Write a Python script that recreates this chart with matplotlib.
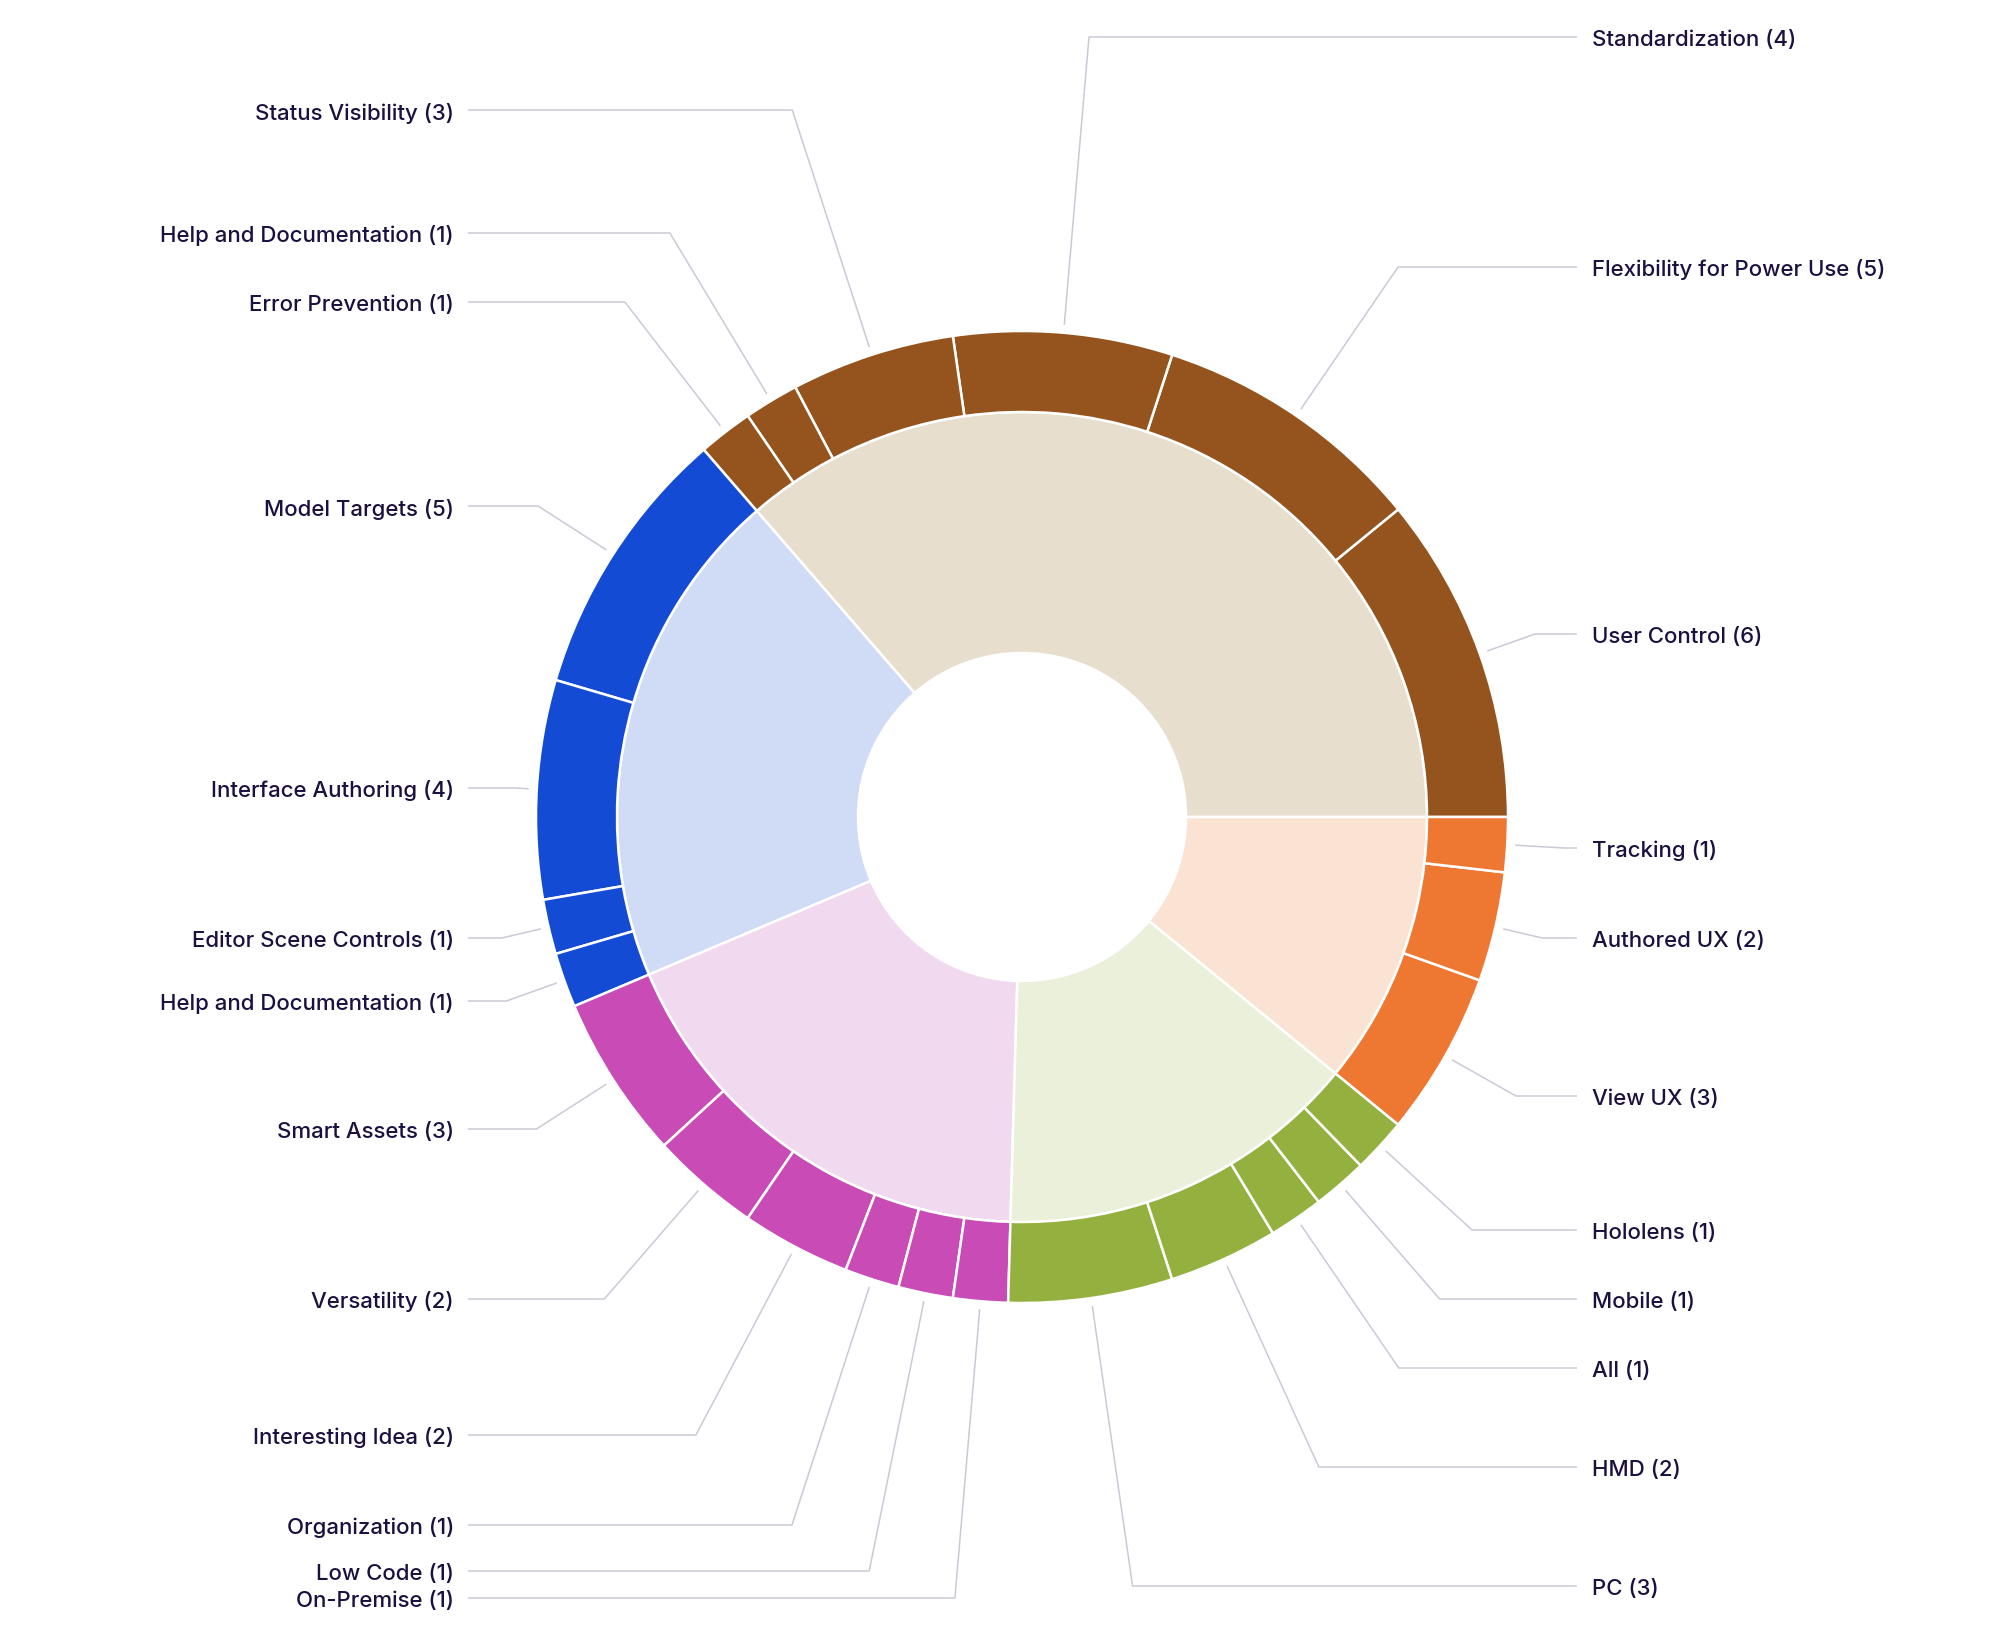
import numpy as np
import matplotlib.pyplot as plt

plt.rcParams['font.family'] = ['Inter', 'DejaVu Sans']

# inner ring groups (counterclockwise from 3 o'clock)
group_outer_colors = ['#95531d', '#144bd4', '#c84bb6', '#94b13f', '#ee7732']
group_inner_colors = ['#e8dece', '#d0dcf5', '#f1d9ef', '#eaf0d9', '#fae3d2']

# outer ring
outer_labels = ['User Control', 'Flexibility for Power Use', 'Standardization', 'Status Visibility',
                'Help and Documentation', 'Error Prevention',
                'Model Targets', 'Interface Authoring', 'Editor Scene Controls', 'Help and Documentation',
                'Smart Assets', 'Versatility', 'Interesting Idea', 'Organization', 'Low Code', 'On-Premise',
                'PC', 'HMD', 'All', 'Mobile', 'Hololens',
                'View UX', 'Authored UX', 'Tracking']
outer_values = [6, 5, 4, 3, 1, 1,
                5, 4, 1, 1,
                3, 2, 2, 1, 1, 1,
                3, 2, 1, 1, 1,
                3, 2, 1]
outer_group = [0] * 6 + [1] * 4 + [2] * 6 + [3] * 5 + [4] * 3

# label row positions (pixels from top)
label_rows = [635, 268, 38, 111, 234, 303,
              507, 789, 939, 1002,
              1130, 1300, 1436, 1526, 1572, 1599,
              1587, 1468, 1369, 1300, 1231,
              1097, 939, 849]

W, H = 2004, 1640
cx, cy = 1022, H - 818
r_out, r_mid, r_hole = 486, 405, 164

inner_values = [sum(v for v, g in zip(outer_values, outer_group) if g == k) for k in range(5)]

fig = plt.figure(figsize=(W / 100, H / 100), dpi=100)
ax = fig.add_axes([0, 0, 1, 1])

wedge_style = dict(edgecolor='white', linewidth=1.8)
ax.pie(inner_values, radius=r_mid, center=(cx, cy), startangle=0, counterclock=True,
       colors=group_inner_colors, wedgeprops=dict(width=r_mid - r_hole, **wedge_style))
outer_colors = [group_outer_colors[g] for g in outer_group]
wedges, _ = ax.pie(outer_values, radius=r_out, center=(cx, cy), startangle=0, counterclock=True,
                   colors=outer_colors, wedgeprops=dict(width=r_out - r_mid, **wedge_style))

r_line = 494
x_left_line, x_left_text = 468, 454
x_right_line, x_right_text = 1577, 1592
for w, lab, val, row in zip(wedges, outer_labels, outer_values, label_rows):
    mid = np.deg2rad((w.theta1 + w.theta2) / 2)
    c, s = np.cos(mid), np.sin(mid)
    ly = H - row
    x0, y0 = cx + r_line * c, cy + r_line * s
    if abs(s) > 1e-6:
        r_el = max(r_line, (ly - cy) / s)
    else:
        r_el = r_line
    x1, y1 = cx + r_el * c, cy + r_el * s
    if c > 0:
        xe, xt, ha = x_right_line, x_right_text, 'left'
    else:
        xe, xt, ha = x_left_line, x_left_text, 'right'
    ax.plot([x0, x1, xe], [y0, ly, ly], color='#cacad6', lw=1.1, solid_capstyle='butt')
    ax.text(xt, ly - 2, f'{lab} ({val})', ha=ha, va='center', fontsize=16,
            color='#1c1040', fontweight='medium')

ax.set_xlim(0, W)
ax.set_ylim(0, H)
ax.set_aspect('equal')
ax.axis('off')

fig.savefig('out.png', dpi=100, facecolor='white')
